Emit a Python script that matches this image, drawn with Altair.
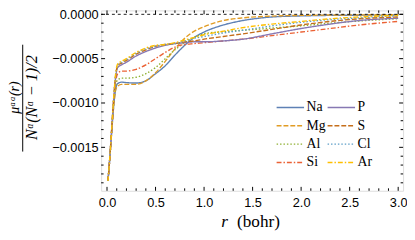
import altair as alt
import pandas as pd

# radial grid (bohr)
r = [0.01, 0.03, 0.05, 0.07, 0.09, 0.11, 0.15, 0.2, 0.3, 0.4, 0.5, 0.6, 0.7,
     0.8, 0.9, 1.0, 1.2, 1.4, 1.7, 2.0, 2.3, 2.6, 3.0]

Na = [-0.00188, -0.00160, -0.00130, -0.00102, -0.00084, -0.00078, -0.000765, -0.00077,
      -0.000775, -0.00075, -0.00067, -0.00058, -0.00046, -0.00035, -0.00026, -0.00020,
      -0.00012, -0.00007, -0.00003, -0.000018, -0.000012, -0.00001, -0.000008]
Mg = [-0.00188, -0.00160, -0.00130, -0.00102, -0.00085, -0.00081, -0.00079, -0.00079,
      -0.00079, -0.00075, -0.00066, -0.00053, -0.00039, -0.00027, -0.00019, -0.00014,
      -0.00007, -0.00004, -0.00002, -0.000012, -0.000008, -0.000006, -0.000004]
Al = [-0.00188, -0.00160, -0.00129, -0.00099, -0.00080, -0.00074, -0.00072, -0.00072,
      -0.00071, -0.00067, -0.00060, -0.00050, -0.00040, -0.00032, -0.00026, -0.00022,
      -0.000195, -0.00018, -0.000155, -0.00013, -0.00010, -0.000075, -0.00005]
Si = [-0.00188, -0.00160, -0.00128, -0.00096, -0.00075, -0.00067, -0.00064, -0.00064,
      -0.00062, -0.00057, -0.00050, -0.00043, -0.00037, -0.00034, -0.00033, -0.00032,
      -0.00030, -0.00028, -0.00024, -0.00020, -0.00016, -0.00012, -0.00008]
P = [-0.00188, -0.00160, -0.00127, -0.00094, -0.00070, -0.00060, -0.00057, -0.00054,
     -0.00047, -0.00042, -0.00038, -0.00035, -0.00033, -0.00032, -0.00031, -0.00031,
     -0.00030, -0.00028, -0.00022, -0.00016, -0.00011, -0.00007, -0.000044]
S = [-0.00188, -0.00160, -0.00126, -0.00093, -0.00068, -0.00058, -0.00055, -0.00052,
     -0.00045, -0.00040, -0.00036, -0.00034, -0.00033, -0.00031, -0.00030, -0.00028,
     -0.00025, -0.00022, -0.00017, -0.00012, -0.00008, -0.00005, -0.00003]
Cl = [-0.00188, -0.00160, -0.00126, -0.00092, -0.00067, -0.00057, -0.00054, -0.00051,
      -0.00044, -0.00039, -0.00036, -0.00034, -0.00033, -0.00030, -0.00027, -0.00025,
      -0.00021, -0.00018, -0.00013, -0.00009, -0.00006, -0.00004, -0.000015]
Ar = [-0.00188, -0.00160, -0.00126, -0.00092, -0.00066, -0.00056, -0.00053, -0.00050,
      -0.00043, -0.00038, -0.00035, -0.00034, -0.00032, -0.00029, -0.00026, -0.00023,
      -0.00019, -0.00015, -0.00011, -0.00008, -0.00005, -0.00003, -0.00001]

elements = ["Na", "Mg", "Al", "Si", "P", "S", "Cl", "Ar"]
series = [Na, Mg, Al, Si, P, S, Cl, Ar]
colors = ["#5E81B5", "#E19C24", "#8FB032", "#EB6235",
          "#8778B3", "#C56E1A", "#5D9EC7", "#FFBF00"]
dashes = [[1, 0], [5, 2], [1.5, 2], [5, 2, 1.5, 2],
          [1, 0], [5, 2], [1.5, 2], [5, 2, 1.5, 2]]

x_major = [0.0, 0.5, 1.0, 1.5, 2.0, 2.5, 3.0]
x_minor = [round(i * 0.1, 1) for i in range(1, 31) if i % 5 != 0]
y_major = [0.0, -0.0005, -0.0010, -0.0015]
y_minor = [round(-i * 0.0001, 4) for i in range(1, 20) if i % 5 != 0]

rows = []
for k, (el, vals) in enumerate(zip(elements, series)):
    for x, v in zip(r, vals):
        rows.append({"r": x, "mu": v, "el": el, "k": k})
df = pd.DataFrame(rows)

W, H = 308, 184
xs = alt.Scale(domain=[-0.0606, 3.0505], nice=False, zero=False)
ys = alt.Scale(domain=[-0.00199, 0.0000442], nice=False, zero=False)
cs = alt.Scale(domain=elements, range=colors)
ds = alt.Scale(domain=elements, range=dashes)
xa = alt.Axis(values=x_major, format=".1f", tickSize=0, domain=False, grid=False,
              labelFont="Liberation Sans", labelFontSize=13, labelColor="black",
              labelPadding=6, title=None)
ya = alt.Axis(values=y_major, format=".4f", tickSize=0, domain=False, grid=False,
              labelFont="Liberation Sans", labelFontSize=13, labelColor="black",
              labelPadding=3, title=None)

lines = alt.Chart(df).mark_line(strokeWidth=1.4, interpolate="monotone").encode(
    x=alt.X("r:Q", scale=xs, axis=xa),
    y=alt.Y("mu:Q", scale=ys, axis=ya),
    color=alt.Color("el:N", scale=cs, legend=None),
    strokeDash=alt.StrokeDash("el:N", scale=ds, legend=None),
    order=alt.Order("k:Q"),
)

# legend: two columns of four entries, laid out from a base point and spacings
LX, LY, COLW, ROWH, SYM, GAP = 179, 99, 52, 18.7, 28, 2.5
leg_rows = []
for i, el in enumerate(elements):
    c, rr = divmod(i, 4)
    x0 = LX + c * COLW
    leg_rows.append({"el": el, "x0": x0, "x1": x0 + SYM, "tx": x0 + SYM + GAP,
                     "ly": LY + rr * ROWH})
ldf = pd.DataFrame(leg_rows)
leg_lines = alt.Chart(ldf).mark_rule(strokeWidth=1.4).encode(
    x=alt.X("x0:Q", scale=None), x2="x1:Q", y=alt.Y("ly:Q", scale=None),
    color=alt.Color("el:N", scale=cs, legend=None),
    strokeDash=alt.StrokeDash("el:N", scale=ds, legend=None))
leg_text = alt.Chart(ldf).mark_text(font="Liberation Serif", fontSize=14, color="black",
                                    align="left", baseline="middle").encode(
    x=alt.X("tx:Q", scale=None), y=alt.Y("ly:Q", scale=None), text="el:N")

zero = alt.Chart(pd.DataFrame({"y": [0.0]})).mark_rule(
    color="black", strokeWidth=0.9, strokeDash=[3, 3]).encode(
    y=alt.Y("y:Q", scale=ys, axis=ya))

def xticks(vals, length):
    d = alt.Chart(pd.DataFrame({"v": vals}))
    b = d.mark_rule(color="black", strokeWidth=1).encode(
        x=alt.X("v:Q", scale=xs, axis=xa), y=alt.value(H), y2=alt.value(H - length))
    t = d.mark_rule(color="black", strokeWidth=1).encode(
        x=alt.X("v:Q", scale=xs, axis=xa), y=alt.value(0), y2=alt.value(length))
    return [b, t]

def yticks(vals, length):
    d = alt.Chart(pd.DataFrame({"v": vals}))
    lft = d.mark_rule(color="black", strokeWidth=1).encode(
        y=alt.Y("v:Q", scale=ys, axis=ya), x=alt.value(0), x2=alt.value(length))
    rgt = d.mark_rule(color="black", strokeWidth=1).encode(
        y=alt.Y("v:Q", scale=ys, axis=ya), x=alt.value(W), x2=alt.value(W - length))
    return [lft, rgt]

ticks = xticks(x_major, 4) + xticks(x_minor, 2.5) + yticks(y_major, 4) + yticks(y_minor, 2.5)

def label(text, x, y, size, italic=False, angle=0):
    kw = dict(font="Liberation Serif", fontSize=size, color="black",
              align="center", baseline="middle")
    if italic:
        kw["fontStyle"] = "italic"
    if angle:
        kw["angle"] = angle
    return alt.Chart(pd.DataFrame({"t": [text]})).mark_text(**kw).encode(
        text="t:N", x=alt.value(x), y=alt.value(y))

texts = [
    label("r", 126, 216, 17.5, italic=True),
    label("(bohr)", 160.5, 216, 17.5),
    label("μᵅᵅ(r)", -87.5, 89, 14, italic=True, angle=270),
    label("Nᵅ(Nᵅ − 1)/2", -70.5, 89, 16.5, italic=True, angle=270),
]
bar = alt.Chart(pd.DataFrame({"a": [0]})).mark_rule(color="black", strokeWidth=1).encode(
    x=alt.value(-80), y=alt.value(35), y2=alt.value(144))

chart = alt.layer(lines, zero, *ticks, leg_lines, leg_text, bar, *texts).properties(
    width=W, height=H,
    autosize=alt.AutoSizeParams(type="none"),
    padding={"left": 95, "top": 0, "right": 4, "bottom": 60},
).configure_view(stroke="black", strokeWidth=1.6).configure(background="white")

chart.save("out.html", embed_options={"renderer": "svg", "actions": False})
